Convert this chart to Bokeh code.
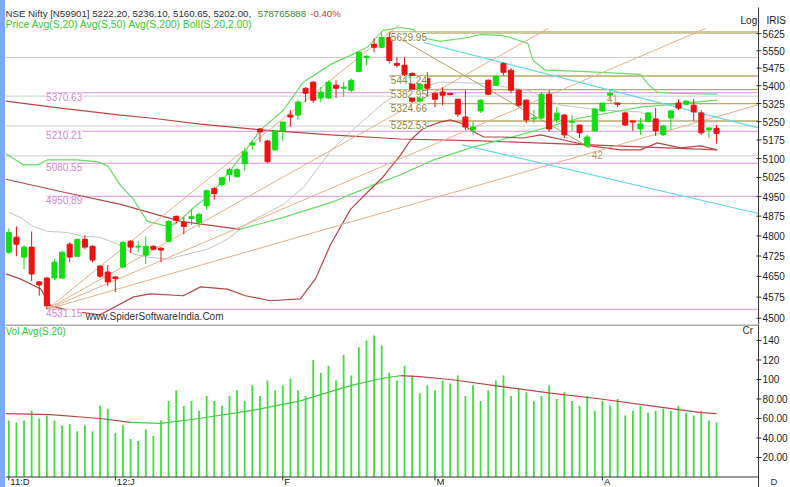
from bokeh.plotting import figure
from bokeh.models import Range1d, Label, Div, ColumnDataSource
from bokeh.core.properties import value
from bokeh.layouts import row, column
from bokeh.embed import file_html
from bokeh.resources import INLINE

# ---------------- data ----------------
open_ = [4739,4795,4721,4758,4630,4644,4644,4644,4769,4724,
         4787,4761,4688,4666,4648,4684,4780,4758,4728,4761,
         4754,4780,4874,4851,4866,4851,4915,4981,4997,5036,
         5028,5079,5155,5220,5171,5135,5212,5277,5277,5389,
         5415,5348,5348,5402,5389,5381,5460,5521,5578,5565,
         5608,5495,5487,5452,5335,5431,5368,5373,5368,5343,
         5269,5216,5294,5423,5402,5495,5466,5381,5339,5261,
         5265,5364,5257,5277,5247,5236,5151,5212,5294,5360,
         5327,5286,5253,5220,5252,5261,5196,5265,5327,5322,
         5318,5286,5216,5222.20]
high = [4828,4836,4765,4817,4633,4648,4713,4743,4776,4791,
        4802,4765,4691,4691,4651,4780,4784,4780,4798,4765,
        4758,4859,4878,4870,4900,4889,4977,4989,5028,5064,
        5064,5143,5175,5224,5175,5216,5252,5298,5339,5394,
        5419,5394,5423,5423,5415,5431,5547,5530,5604,5626,
        5629.95,5521,5521,5457,5423,5457,5368,5394,5368,5343,
        5381,5248,5343,5427,5444,5500,5474,5385,5343,5298,
        5373,5381,5310,5281,5277,5236,5196,5306,5327,5381,
        5327,5290,5253,5265,5290,5306,5236,5298,5343,5339,
        5343,5298,5224,5236.10]
low = [4732,4724,4677,4633,4580,4531.15,4637,4640,4702,4721,
       4750,4702,4644,4615,4593,4680,4736,4739,4695,4747,
       4702,4776,4847,4806,4840,4832,4900,4939,4989,5009,
       5024,5052,5135,5167,5083,5131,5171,5228,5257,5331,
       5327,5331,5343,5348,5352,5373,5460,5487,5543,5560,
       5495,5478,5440,5327,5327,5356,5310,5318,5360,5269,
       5216,5196,5286,5360,5398,5444,5368,5310,5244,5244,
       5261,5208,5244,5183,5212,5183,5143,5208,5290,5339,
       5310,5232,5212,5196,5248,5191,5191,5216,5298,5318,
       5253,5196,5183,5160.65]
close = [4813,4769,4758,4659,4619,4544,4702,4739,4721,4787,
         4758,4710,4651,4630,4642,4776,4758,4761,4761,4750,
         4747,4855,4859,4836,4874,4881,4973,4962,5024,5056,
         5056,5127,5163,5208,5087,5212,5248,5269,5331,5368,
         5339,5373,5415,5389,5394,5423,5543,5526,5565,5608,
         5508,5487,5448,5335,5415,5389,5343,5360,5362,5281,
         5228,5228,5339,5364,5440,5457,5381,5318,5257,5265,
         5364,5220,5285,5196,5250,5204,5187,5302,5327,5368,
         5322,5236,5248,5240,5286,5212,5232,5294,5306,5335,
         5290,5204,5224,5202.00]
volume = [58,56,58,68,60,63,58,53,54,47,
          53,47,73,70,45,53,39,37,49,42,
          58,78,89,73,78,68,83,78,73,83,
          89,78,94,83,99,89,94,101,89,83,
          120,107,114,99,125,104,133,140,145,135,
          107,99,114,104,86,94,89,99,96,104,
          83,94,78,89,99,104,83,91,87,78,
          83,94,80,87,78,73,83,68,78,73,
          80,63,68,73,66,68,70,68,73,66,
          63,68,58,56]

month_ticks = [0, 14, 36, 56, 78]
month_labels = ["11:D", "12:J", "F", "M", "A"]
price_ticks = [4500, 4575, 4650, 4725, 4800, 4875, 4950, 5025, 5100, 5175,
               5250, 5325, 5400, 5475, 5550, 5625]
price_tick_labels = [str(t) for t in price_ticks]
vol_ticks = [20, 40, 60, 80, 100, 120, 140]
vol_tick_labels = ["20.00", "40.00", "60.00", "80.00", "100", "120", "140"]

# indicator lines (bar index, value)
ma200_x = [-0.4, 6.8, 14.7, 18.6, 25.2, 33.1, 42.3, 51.5, 62.0, 76.4, 93.1]
ma200_y = [5335, 5306, 5277, 5265, 5240, 5216, 5196, 5179, 5171, 5155, 5135]
ma50_dn_x = [-0.4, 6.8, 14.7, 22.6, 30.4]
ma50_dn_y = [5018, 4970, 4920, 4855, 4825]
ma50_up_x = [30.4, 36.1, 42.7, 47.1, 51.5, 55.8, 60.7, 67.2, 75.1, 83.0, 93.1]
ma50_up_y = [4825, 4870, 4931, 4985, 5036, 5095, 5143, 5196, 5265, 5310, 5339]
ma20_x = [0, 1.5, 3.2, 5.1, 7.7, 9.8, 12.0, 14.3, 16.4, 18.2, 20.9, 23.5, 26.1, 28.7,
          31.8, 36.1, 38.7, 42.3, 44.9, 49.2, 51.5, 56.7, 62.0, 64.6, 68.2, 72.5,
          77.8, 83.0, 85.6, 93.1]
ma20_y = [4889, 4870, 4836, 4817, 4813, 4798, 4795, 4769, 4732, 4721, 4713, 4732, 4750, 4787,
          4855, 4920, 4985, 5131, 5208, 5326, 5373, 5415, 5410, 5398, 5381, 5318,
          5298, 5290, 5252, 5248]
bb_up_x = [-0.4, 1.9, 3.8, 5.1, 9.0, 11.7, 13.0, 14.7, 16.4, 18.2, 20.9, 22.2, 24.3, 26.5,
           29.5, 33.1, 36.1, 38.7, 42.3, 44.9, 47.1, 49.2, 51.5, 53.2, 54.1, 56.7, 60.3,
           62.0, 64.6, 65.9, 68.2, 68.9, 70.5, 75.1, 83.0, 83.9, 85.2, 86.9, 93.1]
bb_up_y = [5119, 5075, 5075, 5095, 5095, 5087, 5071, 4993, 4939, 4855, 4836, 4851, 4908, 4958,
           5067, 5216, 5298, 5415, 5491, 5530, 5565, 5639, 5652, 5643, 5608, 5591, 5608,
           5621, 5617, 5608, 5582, 5508, 5466, 5461, 5448, 5410, 5373, 5368, 5364]
bb_lo_x = [-0.4, 1.5, 4.2, 5.5, 8.1, 12.0, 16.4, 18.6, 22.9, 25.2, 28.7, 31.1, 34.4, 38.3,
           40.3, 42.3, 44.9, 47.1, 49.2, 51.5, 52.8, 54.5, 56.7, 58.0, 59.4, 60.7, 62.4,
           64.6, 67.6, 69.9, 72.9, 76.4, 80.4, 83.0, 85.2, 88.3, 90.9, 93.1]
bb_lo_y = [4659, 4641, 4604, 4544, 4526, 4512, 4576, 4587, 4580, 4612, 4604, 4580, 4562, 4569,
           4641, 4769, 4901, 4966, 5028, 5115, 5175, 5224, 5248, 5257, 5244, 5216, 5187,
           5187, 5183, 5196, 5175, 5151, 5135, 5135, 5163, 5143, 5151, 5135]
vavg_dn1_x = [-0.4, 5.5, 12.0, 16.0]
vavg_dn1_y = [65, 64, 60, 56]
vavg_up_x = [16.0, 20.0, 25.0, 31.8, 38.3, 45.0, 49.0, 51.5]
vavg_up_y = [56, 55, 60, 68, 78, 94, 101, 104]
vavg_dn2_x = [51.5, 54.0, 58.0, 64.6, 71.2, 77.8, 84.4, 91.0, 93.0]
vavg_dn2_y = [104, 103, 100, 93, 86, 80, 73, 66, 65]

fib_levels = [5370.63, 5210.21, 5080.55, 4950.89, 4531.15]
fib_labels = ["5370.63", "5210.21", "5080.55", "4950.89", "4531.15"]
olive_levels = [5629.95, 5441.24, 5382.95, 5324.66, 5252.53]
olive_labels = ["5629.95", "5441.24", "5382.95", "5324.66", "5252.53"]
gray_levels = [5521, 5356, 5232, 5111]

fan_x0 = [5, 5, 5, 5]
fan_y0 = [4531.15, 4531.15, 4531.15, 4531.15]
fan_x1 = [51.2, 70.9, 91.6, 98.5]
fan_y1 = [5661, 5648, 5648, 5320]
cyan_x0 = [54.5, 59.6]
cyan_y0 = [5586, 5155]
cyan_x1 = [98.5, 98.5]
cyan_y1 = [5224, 4885]
olive_diag_x = [50, 76.4]
olive_diag_y = [5629.95, 5143]

# ---------------- layout constants ----------------
FONT = "Liberation Sans"
GREEN = "#11dd11"
RED = "#ee1111"
AX = "#333333"
X0, X1 = -0.434, 102.72        # visible bar-index range (frame spans full width)
AXIS_X = 98.52                 # right axis position (bar index units)
TICK_A, TICK_B = 98.25, 98.9
LABEL_X = 99.05

N = len(close)
idx = list(range(N))
colors = [GREEN if c >= o else RED for o, c in zip(open_, close)]
src = ColumnDataSource(dict(x=idx, o=open_, h=high, l=low, c=close,
                            top=[max(o, c) for o, c in zip(open_, close)],
                            bot=[min(o, c) for o, c in zip(open_, close)],
                            col=colors, vol=volume))

def lab(fig, x, y, text, color, align="left", baseline="middle", bg=None, size="10px"):
    fig.add_layout(Label(x=x, y=y, text=text, text_color=color, text_font=FONT,
                         text_font_size=size, text_align=align, text_baseline=baseline,
                         background_fill_color=bg))

# ---------------- price panel ----------------
P_TOP, P_BOT = 5773.0, 4477.9
p = figure(width=785, height=324, y_axis_type="log", x_range=Range1d(X0, X1),
           y_range=Range1d(P_BOT, P_TOP), output_backend="svg", toolbar_location=None,
           x_axis_location=None, y_axis_location=None,
           min_border_left=0, min_border_right=0, min_border_top=0, min_border_bottom=0,
           outline_line_color=None, background_fill_color="white", border_fill_color="white")
p.xgrid.visible = False
p.ygrid.visible = False

for lv in gray_levels:
    p.line([X0, AXIS_X], [lv, lv], line_color="#cccccc", line_width=1)
for lv in fib_levels:
    p.line([4.9, AXIS_X], [lv, lv], line_color="#e8a8e8", line_width=1.2)
for i, lv in enumerate(olive_levels):
    if i == 0:
        p.line([50, AXIS_X], [lv, lv], line_color="#cdca9e", line_width=3)
    else:
        p.line([50, AXIS_X], [lv, lv], line_color="#b8aa66", line_width=1.3)

p.line(ma20_x, ma20_y, line_color="#c4c4c4", line_width=1)
p.line(ma200_x, ma200_y, line_color="#b84848", line_width=1.2)
p.line(ma50_dn_x, ma50_dn_y, line_color="#b84848", line_width=1.2)
p.line(ma50_up_x, ma50_up_y, line_color="#66dd66", line_width=1.2)
p.line(bb_up_x, bb_up_y, line_color="#66dd66", line_width=1.2)
p.line(bb_lo_x, bb_lo_y, line_color="#b84848", line_width=1.2)

p.segment(fan_x0, fan_y0, fan_x1, fan_y1, line_color="#e8b088", line_width=1)
p.segment(cyan_x0, cyan_y0, cyan_x1, cyan_y1, line_color="#66d8ea", line_width=1.2)
p.line(olive_diag_x, olive_diag_y, line_color="#b0a060", line_width=1)

p.segment("x", "h", "x", "l", source=src, line_color="col", line_width=1)
p.vbar(x="x", top="top", bottom="bot", width=0.66, source=src, fill_color="col",
       line_color="col", line_width=1)

# right price axis (drawn inside the frame)
p.segment([AXIS_X], [5741.4], [AXIS_X], [P_BOT], line_color=AX, line_width=1)
p.segment([TICK_A] * len(price_ticks), price_ticks, [TICK_B] * len(price_ticks), price_ticks,
          line_color=AX, line_width=1)
p.text(x=[LABEL_X] * len(price_ticks), y=price_ticks, text=price_tick_labels,
       text_font=value(FONT), text_font_size=value("10px"), text_color="#222222",
       text_align="left", text_baseline="middle")

for lv, t in zip(fib_levels, fib_labels):
    lab(p, 4.9, lv, t, "#d488d4", baseline="top", bg="white")
for lv, t in zip(olive_levels, olive_labels):
    lab(p, 50.2, lv, t, "#8c8440", baseline="top", bg="white")

lab(p, X0, 5714, "NSE Nifty [N59901] 5222.20, 5236.10, 5160.65, 5202.00,", "#303030", size="9.7px")
lab(p, 32.7, 5714, "578765888", "#3a8a3a", size="9.7px")
lab(p, 39.6, 5714, "-0.40%", "#c83838", size="9.7px")
lab(p, X0, 5667, "Price Avg(S,20) Avg(S,50) Avg(S,200) Boll(S,20,2.00)", "#33cc33", size="10.4px")
lab(p, 96.15, 5683, "Log", "#222222")
lab(p, 99.57, 5683, "IRIS", "#222222")
lab(p, 10.1, 4507, "www.SpiderSoftwareIndia.Com", "#303030")
lab(p, 78.6, 5345, "41", "#c89a60")
lab(p, 76.6, 5115, "42", "#c89a60")

# ---------------- volume panel ----------------
V_TOP, V_BOT = 156.4, -10.77
pv = figure(width=785, height=163, x_range=p.x_range, y_range=Range1d(V_BOT, V_TOP),
            output_backend="svg", toolbar_location=None,
            x_axis_location=None, y_axis_location=None,
            min_border_left=0, min_border_right=0, min_border_top=0, min_border_bottom=0,
            outline_line_color=None, background_fill_color="white", border_fill_color="white")
pv.xgrid.visible = False
pv.ygrid.visible = False

pv.line([X0, AXIS_X], [155.9, 155.9], line_color="#555555", line_width=1)
pv.vbar(x="x", top="vol", bottom=0, width=0.24, source=src, fill_color="#44dd44", line_color=None)
pv.line(vavg_dn1_x, vavg_dn1_y, line_color="#b84848", line_width=1.2)
pv.line(vavg_up_x, vavg_up_y, line_color="#44cc44", line_width=1.2)
pv.line(vavg_dn2_x, vavg_dn2_y, line_color="#b84848", line_width=1.2)

# axes drawn inside the frame
pv.line([X0, AXIS_X], [0, 0], line_color=AX, line_width=1)
pv.segment([AXIS_X], [V_TOP], [AXIS_X], [V_BOT], line_color=AX, line_width=1)
pv.segment([TICK_A] * len(vol_ticks), vol_ticks, [TICK_B] * len(vol_ticks), vol_ticks,
           line_color=AX, line_width=1)
pv.text(x=[LABEL_X] * len(vol_ticks), y=vol_ticks, text=vol_tick_labels,
        text_font=value(FONT), text_font_size=value("10px"), text_color="#222222",
        text_align="left", text_baseline="middle")
pv.segment(month_ticks, [0] * len(month_ticks), month_ticks, [-3.5] * len(month_ticks),
           line_color=AX, line_width=1)
pv.text(x=[m + 0.2 for m in month_ticks], y=[-4.7] * len(month_ticks), text=month_labels,
        text_font=value(FONT), text_font_size=value("9.5px"), text_color="#222222",
        text_align="left", text_baseline="middle")

lab(pv, X0, 149.0, "Vol Avg(S.20)", "#33cc33")
lab(pv, 96.4, 150.0, "Cr", "#333333")
lab(pv, 100.1, -4.7, "D", "#333333", size="9.5px")

strip = Div(width=5, height=487, styles={"background-color": "#7ea8f8"}, margin=(0, 0, 0, 0))
layout = row(strip, column(p, pv, spacing=0), spacing=0)

open("out.html", "w").write(file_html(layout, INLINE))
